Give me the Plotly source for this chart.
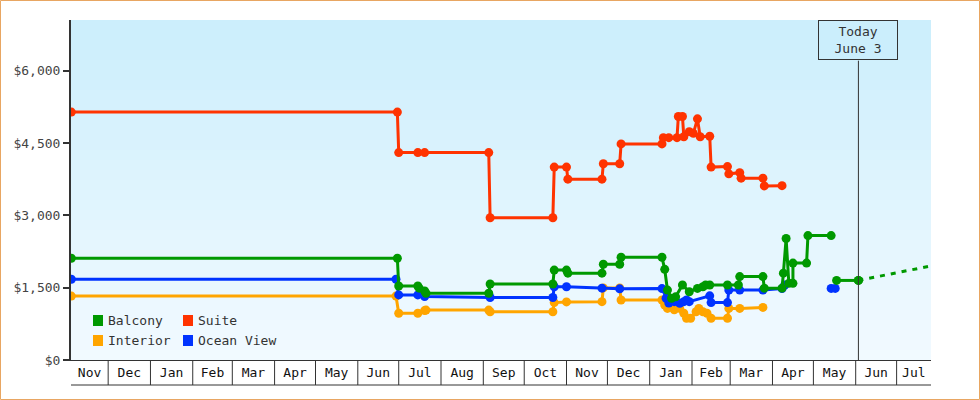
import plotly.graph_objects as go
import pandas as pd

# ---------------- data ----------------
series_names = ["Balcony", "Suite", "Interior", "Ocean View"]
series_colors = ["#009900", "#ff3300", "#ffa500", "#0033ff"]

balcony_dates = [
    "2023-11-04", "2024-06-30", "2024-07-01", "2024-07-15", "2024-07-16", "2024-07-20",
    "2024-07-21", "2024-09-05", "2024-09-06", "2024-10-22", "2024-10-23", "2024-11-01",
    "2024-11-02", "2024-11-27", "2024-11-28", "2024-12-10", "2024-12-11", "2025-01-10",
    "2025-01-12", "2025-01-14", "2025-01-17", "2025-01-20", "2025-01-25", "2025-01-30",
    "2025-02-05", "2025-02-09", "2025-02-11", "2025-02-14", "2025-02-27", "2025-03-07",
    "2025-03-08", "2025-03-25", "2025-03-26", "2025-04-08", "2025-04-09", "2025-04-11",
    "2025-04-13", "2025-04-16", "2025-04-16", "2025-04-26", "2025-04-27", "2025-05-14",
    None, "2025-05-18", "2025-06-03",
]
balcony_values = [
    2110, 2110, 1535, 1535, 1490, 1430,
    1385, 1385, 1575, 1575, 1865, 1865,
    1800, 1800, 1985, 1985, 2130, 2130,
    1880, 1450, 1280, 1310, 1555, 1415,
    1485, 1520, 1555, 1555, 1555, 1555,
    1730, 1730, 1490, 1490, 1800, 2520,
    1590, 1590, 2010, 2010, 2580, 2580,
    None, 1650, 1650,
]

suite_dates = [
    "2023-11-04", "2024-06-30", "2024-07-01", "2024-07-15", "2024-07-20", "2024-09-05",
    "2024-09-06", "2024-10-22", "2024-10-23", "2024-11-01", "2024-11-02", "2024-11-27",
    "2024-11-28", "2024-12-10", "2024-12-11", "2025-01-10", "2025-01-11", "2025-01-15",
    "2025-01-21", "2025-01-22", "2025-01-25", "2025-01-26", "2025-01-30", "2025-02-02",
    "2025-02-05", "2025-02-07", "2025-02-14", "2025-02-15", "2025-02-27", "2025-02-28",
    "2025-03-08", "2025-03-09", "2025-03-25", "2025-03-26", "2025-04-08",
]
suite_values = [
    5140, 5140, 4300, 4300, 4300, 4300,
    2950, 2950, 4000, 4000, 3750, 3750,
    4070, 4070, 4480, 4480, 4610, 4610,
    4610, 5050, 5050, 4630, 4735, 4700,
    5000, 4630, 4640, 4000, 4010, 3860,
    3885, 3770, 3770, 3610, 3615,
]

interior_dates = [
    "2023-11-04", "2024-06-29", "2024-07-01", "2024-07-15", "2024-07-20", "2024-07-21",
    "2024-09-05", "2024-09-06", "2024-10-22", "2024-10-23", "2024-11-01", "2024-11-27",
    "2024-11-28", "2024-12-10", "2024-12-11", "2025-01-10", "2025-01-12", "2025-01-14",
    "2025-01-17", "2025-01-19", "2025-01-23", "2025-01-26", "2025-01-28", "2025-01-31",
    "2025-02-04", "2025-02-06", "2025-02-09", "2025-02-12", "2025-02-15", "2025-02-27",
    "2025-02-28", "2025-03-08", "2025-03-25",
]
interior_values = [
    1325, 1325, 970, 970, 1025, 1035,
    1035, 1000, 1000, 1190, 1205, 1210,
    1495, 1495, 1245, 1245, 1140, 1070,
    1110, 1040, 1070, 970, 865, 865,
    1000, 1070, 1000, 970, 865, 865,
    1070, 1070, 1090,
]

ocean_dates = [
    "2023-11-04", "2024-06-29", "2024-07-01", "2024-07-15", "2024-07-20", "2024-09-06",
    "2024-10-22", "2024-10-23", "2024-11-01", "2024-11-27", "2024-12-10", "2025-01-10",
    "2025-01-13", "2025-01-15", "2025-01-19", "2025-01-23", "2025-01-26", "2025-01-28",
    "2025-01-30", "2025-02-14", "2025-02-15", "2025-02-27", "2025-02-28", "2025-03-08",
    "2025-03-25", "2025-04-08", "2025-04-10", None, "2025-05-14", "2025-05-17",
]
ocean_values = [
    1675, 1675, 1350, 1350, 1315, 1295,
    1295, 1520, 1520, 1490, 1475, 1480,
    1280, 1180, 1210, 1175, 1210, 1245,
    1210, 1330, 1190, 1190, 1450, 1450,
    1450, 1480, 1555, None, 1485, 1485,
]

forecast_dates = ["2025-06-03", "2025-07-26"]
forecast_values = [1650, 1950]

today_date = "2025-06-03"
today_text = "Today<br>June 3"

x_start = "2023-11-03 18:00"
x_end = "2025-07-26 05:00"
y_ticks = [0, 1500, 3000, 4500, 6000]
y_max = 7050

# ---------------- style ----------------
FONT = "DejaVu Sans Mono"
TXT = "#333333"
W, H = 980, 400
ML, MR, MT, MB = 71, 49, 20, 40
PW, PH = W - ML - MR, H - MT - MB
top_rgb = (203, 238, 252)
bot_rgb = (242, 250, 255)

series = {
    "Balcony": (balcony_dates, balcony_values),
    "Suite": (suite_dates, suite_values),
    "Interior": (interior_dates, interior_values),
    "Ocean View": (ocean_dates, ocean_values),
}
color_of = dict(zip(series_names, series_colors))

fig = go.Figure()
for name in ["Interior", "Ocean View", "Balcony", "Suite"]:
    d, v = series[name]
    fig.add_trace(go.Scatter(
        x=pd.to_datetime(d), y=v, name=name, mode="lines+markers",
        line=dict(color=color_of[name], width=3),
        marker=dict(color=color_of[name], size=9, symbol="circle"),
        connectgaps=False, showlegend=False,
    ))

fig.add_trace(go.Scatter(
    x=pd.to_datetime(forecast_dates), y=forecast_values, mode="lines",
    line=dict(color=color_of["Balcony"], width=3, dash="5px,6px"),
    showlegend=False, hoverinfo="skip",
))
fig.add_trace(go.Scatter(
    x=pd.to_datetime(forecast_dates[:1]), y=forecast_values[:1], mode="markers",
    marker=dict(color=color_of["Balcony"], size=9), showlegend=False, hoverinfo="skip",
))

shapes = []
# gradient background
N = 34
for i in range(N):
    t = (i + 0.5) / N
    c = tuple(round(bot_rgb[k] + (top_rgb[k] - bot_rgb[k]) * t) for k in range(3))
    shapes.append(dict(type="rect", xref="paper", yref="paper", x0=0, x1=1,
                       y0=i / N, y1=(i + 1) / N, fillcolor="rgb(%d,%d,%d)" % c,
                       line=dict(width=0), layer="below"))

# month cells under axis
xs, xe = pd.Timestamp(x_start), pd.Timestamp(x_end)
month_starts = pd.date_range(xs.normalize().replace(day=1), xe, freq="MS")
cell_bottom = -25 / PH
tickvals, ticktext = [], []
for ms in month_starts:
    nxt = ms + pd.offsets.MonthBegin(1)
    a, b = max(ms, xs), min(nxt, xe)
    if b <= a:
        continue
    tickvals.append(a + (b - a) / 2)
    ticktext.append(ms.strftime("%b"))
    if ms > xs:
        shapes.append(dict(type="line", xref="x", yref="paper", x0=ms, x1=ms,
                           y0=0, y1=cell_bottom, line=dict(color=TXT, width=1)))
shapes.append(dict(type="line", xref="paper", yref="paper", x0=0, x1=1,
                   y0=cell_bottom, y1=cell_bottom, line=dict(color=TXT, width=1)))

# today line
box_bottom = (H - MB - 60.7) / PH
shapes.append(dict(type="line", xref="x", yref="paper", x0=today_date, x1=today_date,
                   y0=0, y1=box_bottom, line=dict(color=TXT, width=1)))

# outer border
shapes.append(dict(type="rect", xref="paper", yref="paper",
                   x0=(0.5 - ML) / PW, x1=(W - 0.5 - ML) / PW,
                   y0=(H - MB - (H - 0.5)) / PH, y1=(H - MB - 0.5) / PH,
                   line=dict(color="#e8a662", width=1), fillcolor="rgba(0,0,0,0)"))

annotations = []
# legend (2 columns)
for i, name in enumerate(series_names):
    col, row = i % 2, i // 2
    px0 = 93 + col * 90
    pyc = 320.5 + row * 20
    shapes.append(dict(type="rect", xref="paper", yref="paper",
                       x0=(px0 - ML) / PW, x1=(px0 + 10 - ML) / PW,
                       y0=(H - MB - (pyc + 5.5)) / PH, y1=(H - MB - (pyc - 5.5)) / PH,
                       fillcolor=color_of[name], line=dict(width=0)))
    annotations.append(dict(xref="paper", yref="paper", x=(px0 + 13 - ML) / PW,
                            y=(H - MB - pyc) / PH, xanchor="left", yanchor="middle",
                            text=name, showarrow=False,
                            font=dict(family=FONT, size=13, color=TXT)))

annotations.append(dict(xref="x", yref="paper", x=today_date, y=1, xanchor="center",
                        yanchor="top", text=today_text, showarrow=False,
                        width=78, height=38, borderpad=0, borderwidth=1,
                        bordercolor=TXT, bgcolor="rgb(%d,%d,%d)" % top_rgb,
                        font=dict(family=FONT, size=13, color=TXT)))

fig.update_layout(
    width=W, height=H, margin=dict(l=ML, r=MR, t=MT, b=MB),
    paper_bgcolor="white", plot_bgcolor="rgba(0,0,0,0)",
    font=dict(family=FONT, size=13, color=TXT),
    showlegend=False, shapes=shapes, annotations=annotations,
    xaxis=dict(type="date", range=[xs, xe], showgrid=False, zeroline=False,
               showline=True, linecolor=TXT, linewidth=1, ticks="",
               tickvals=tickvals, ticktext=ticktext,
               tickfont=dict(family=FONT, size=13, color="#111111")),
    yaxis=dict(range=[0, y_max], tickvals=y_ticks, tickformat="$,.0f",
               showgrid=False, zeroline=False, showline=True, linecolor=TXT,
               linewidth=2, ticks="outside", ticklen=6, tickwidth=2, tickcolor=TXT,
               tickfont=dict(family=FONT, size=13, color="#444444")),
)

fig.write_html("out.html")
